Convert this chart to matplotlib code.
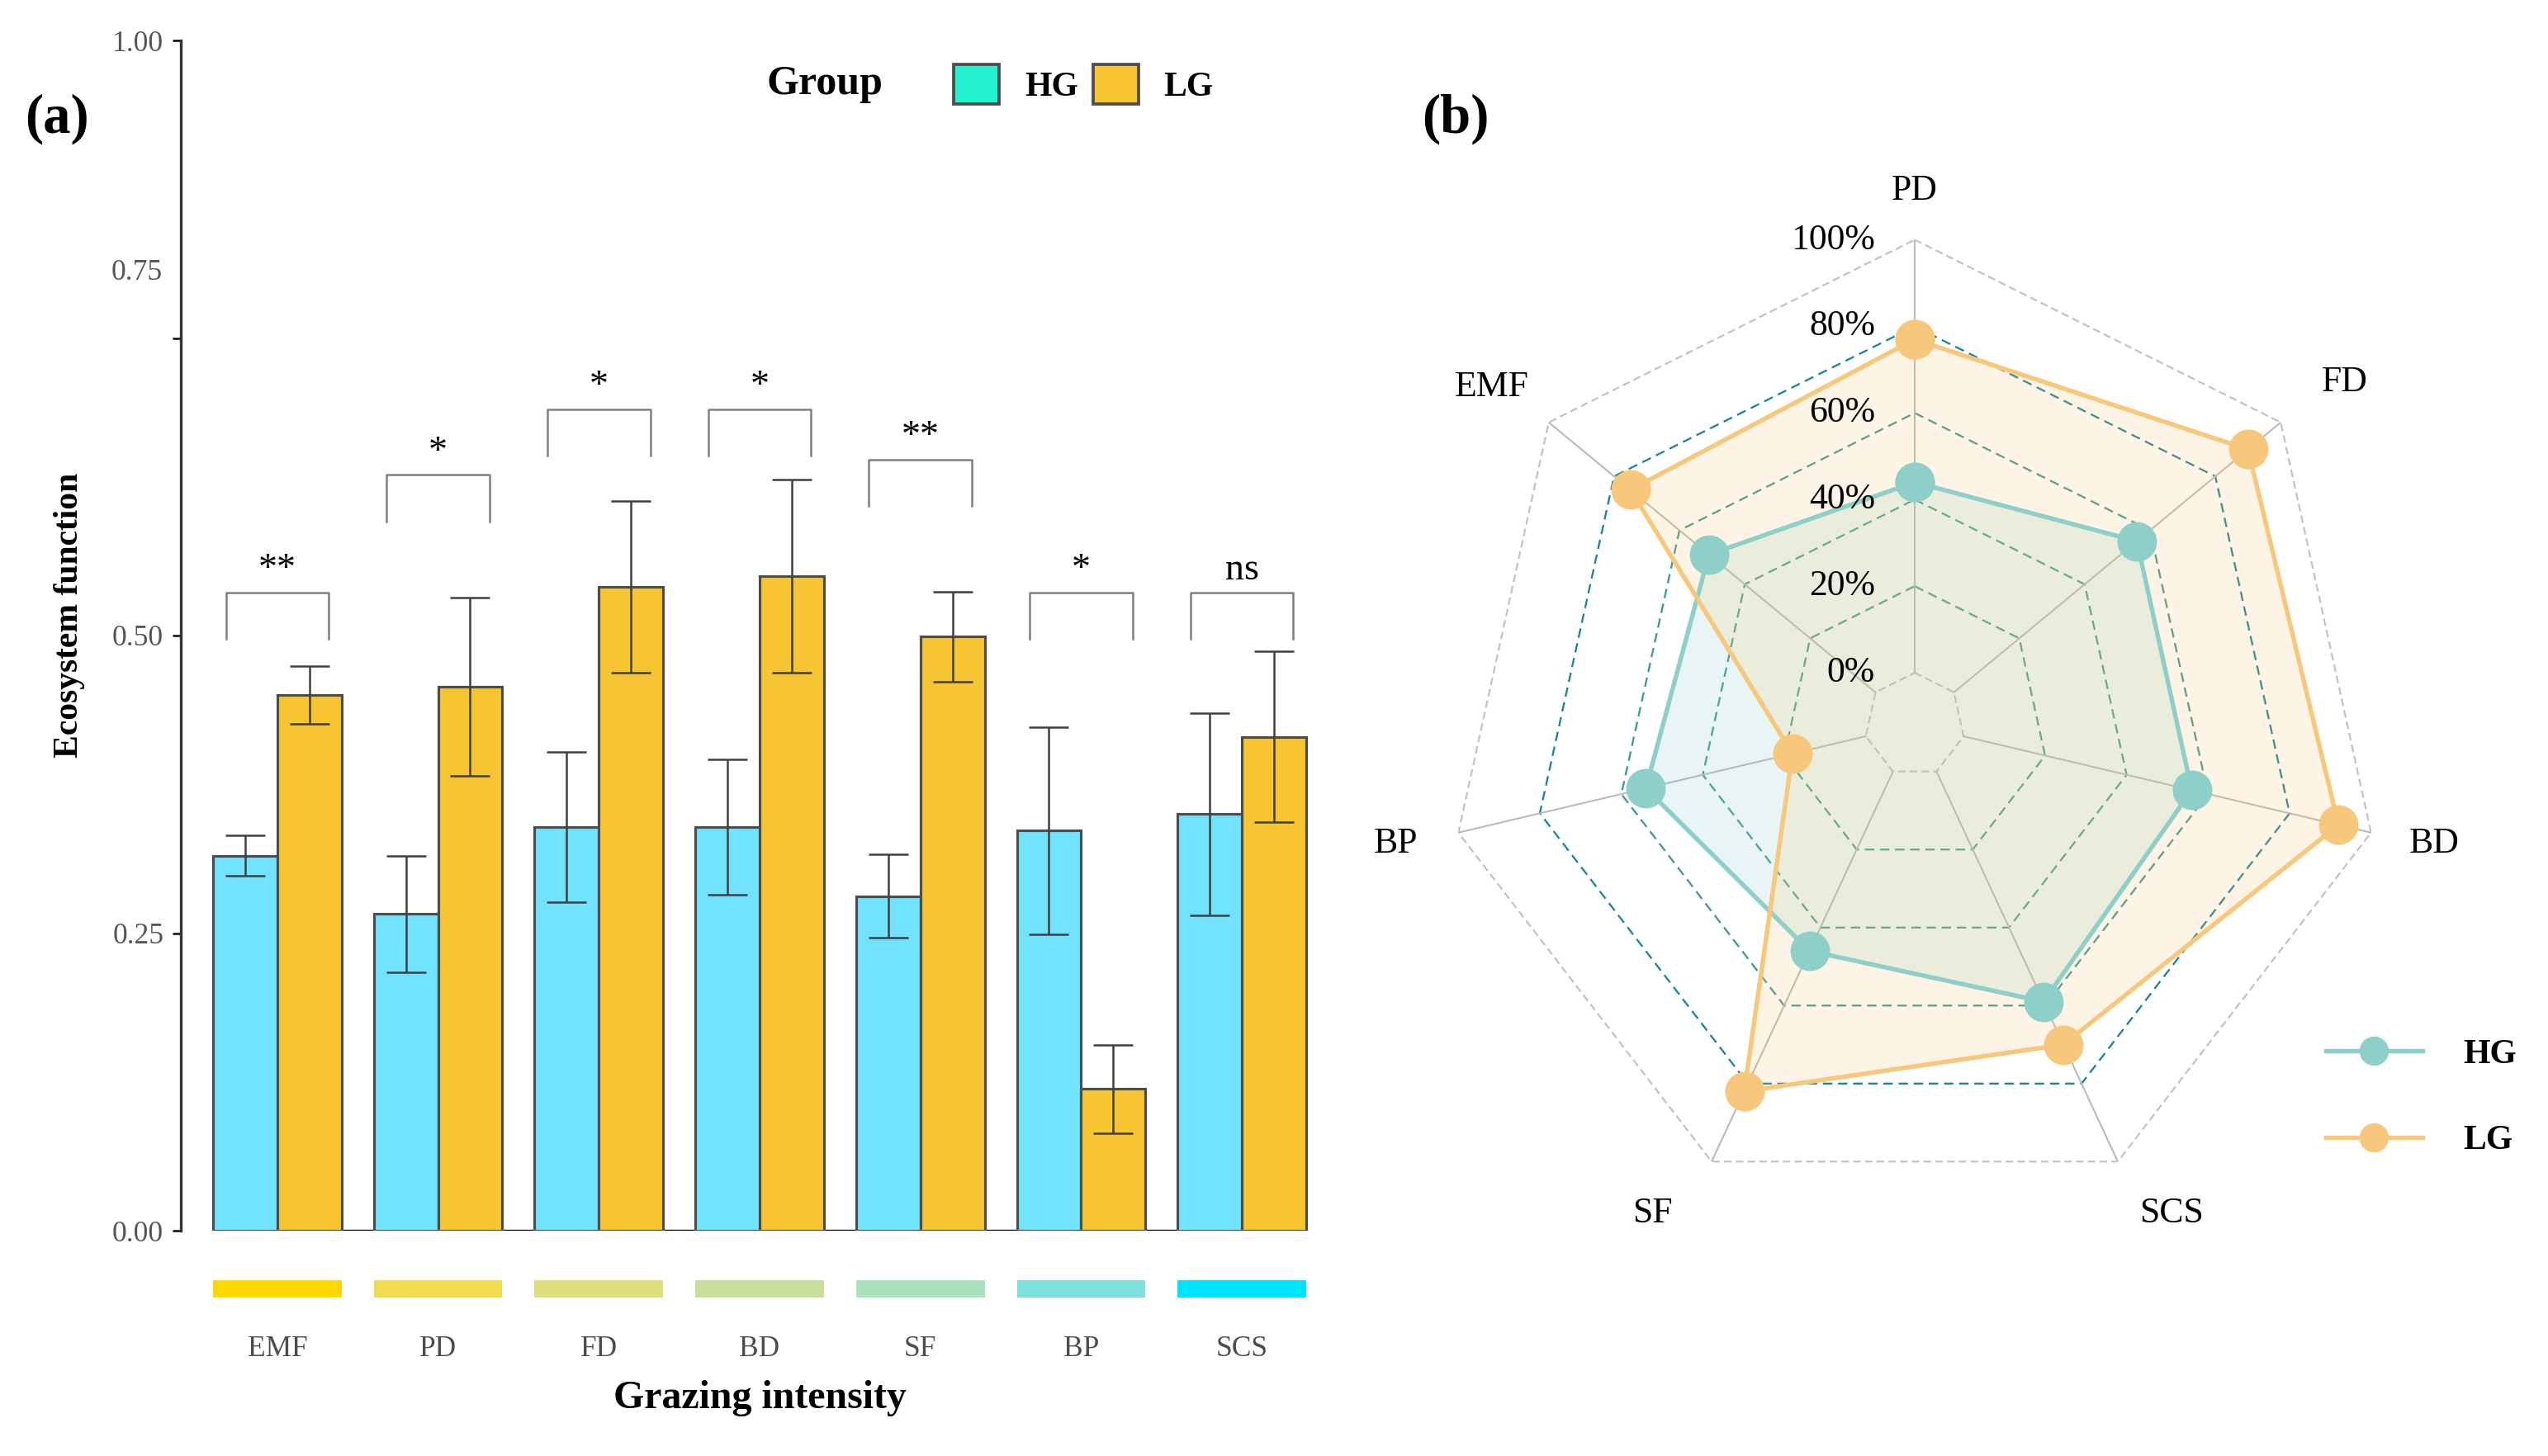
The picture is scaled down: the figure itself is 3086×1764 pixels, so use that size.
import numpy as np
import matplotlib
matplotlib.use("Agg")
import matplotlib.pyplot as plt
from matplotlib.patches import Patch
from matplotlib.lines import Line2D
from matplotlib.transforms import offset_copy

plt.rcParams['font.family'] = ['Liberation Serif', 'DejaVu Serif']

# === Dados painel (a) ===
categorias = ["EMF", "PD", "FD", "BD", "SF", "BP", "SCS"]
hg_media = [0.315, 0.266, 0.339, 0.339, 0.281, 0.336, 0.350]
hg_erro = [0.017, 0.049, 0.063, 0.057, 0.035, 0.087, 0.085]
lg_media = [0.450, 0.457, 0.541, 0.550, 0.499, 0.119, 0.415]
lg_erro = [0.024, 0.075, 0.072, 0.081, 0.038, 0.037, 0.072]
sig_topo = [0.536, 0.635, 0.690, 0.690, 0.648, 0.536, 0.536]
sig_texto = ["**", "*", "*", "*", "**", "*", "ns"]
cores_faixa = ["#FFD900", "#F0DC4E", "#DFDE7C", "#C9DF9C", "#ABE2BE", "#7FE1DE", "#00E5FF"]

# === Dados painel (b) ===
radar_eixos = ["PD", "FD", "BD", "SCS", "SF", "BP", "EMF"]
radar_hg = [44, 56, 56, 59, 46, 54, 51]
radar_lg = [77, 90, 92, 70, 82, 18, 75]
radar_niveis = [0, 20, 40, 60, 80, 100]

W, H = 3087, 1764
fig = plt.figure(figsize=(W / 300, H / 300), dpi=300)

# === Painel (a): barras ===
x = np.arange(len(categorias))
ax = fig.add_axes([219 / W, 1 - 1491 / H, 1402 / W, 1442 / H])
ax.bar(x - 0.2, hg_media, width=0.4, color="#72E3FF", edgecolor="#4D4D4D", linewidth=0.75, zorder=2)
ax.bar(x + 0.2, lg_media, width=0.4, color="#F6C531", edgecolor="#4D4D4D", linewidth=0.75, zorder=2)
ax.errorbar(x - 0.2, hg_media, yerr=hg_erro, fmt="none", ecolor="#404040",
            elinewidth=0.6, capsize=5.8, capthick=0.6, zorder=3)
ax.errorbar(x + 0.2, lg_media, yerr=lg_erro, fmt="none", ecolor="#404040",
            elinewidth=0.6, capsize=5.8, capthick=0.6, zorder=3)
ax.hlines(0, x[0] - 0.4, x[-1] + 0.4, color="black", linewidth=0.8, zorder=1)

# colchetes de significância
for xi, topo, txt in zip(x, sig_topo, sig_texto):
    ax.plot([xi - 0.32, xi - 0.32, xi + 0.32, xi + 0.32],
            [topo - 0.039, topo, topo, topo - 0.039], color="#808080", linewidth=0.6)
    ax.text(xi, topo + 0.004, txt, ha="center", va="bottom", fontsize=11, color="black")

ax.set_xlim(-0.6, 6.6)
ax.set_ylim(0, 1)
ax.set_xticks([])
ax.set_yticks([0, 0.25, 0.5, 0.75, 1.0])
ax.set_yticklabels(["0.00", "0.25", "0.50", "", "1.00"])
ax.text(-0.6, 0.805, "0.75", transform=offset_copy(ax.transData, fig=fig, x=-5.3, y=0, units="points"),
        ha="right", va="center", fontsize=8.5, color="#555555")
ax.tick_params(axis="y", length=2.4, width=0.6, pad=2.6, labelsize=8.5, labelcolor="#555555")
for s in ["top", "right", "bottom"]:
    ax.spines[s].set_visible(False)
ax.spines["left"].set_linewidth(0.8)
ax.spines["left"].set_color("#333333")
ax.set_ylabel("Ecosystem function", fontsize=10, fontweight="bold")
ax.yaxis.set_label_coords(-0.083, 0.517)

# faixa de cores + rótulos
ax_f = fig.add_axes([219 / W, 1 - 1572 / H, 1402 / W, 21 / H])
ax_f.bar(x, [1] * len(x), width=0.8, color=cores_faixa)
ax_f.set_xlim(-0.6, 6.6)
ax_f.set_ylim(0, 1)
ax_f.set_yticks([])
ax_f.set_xticks(x)
ax_f.set_xticklabels(categorias, fontsize=8.5, color="#4D4D4D")
ax_f.tick_params(axis="x", length=0, pad=11)
for s in ax_f.spines.values():
    s.set_visible(False)
ax_f.set_xlabel("Grazing intensity", fontsize=11.5, fontweight="bold", labelpad=5)

# legenda do painel (a)
fig.text(999 / W, 1 - 102 / H, "Group", ha="center", va="center", fontsize=12, fontweight="bold")
leg_a = [Patch(facecolor="#22F2CF", edgecolor="#4D4D4D", linewidth=0.9),
         Patch(facecolor="#F6C531", edgecolor="#4D4D4D", linewidth=0.9)]
fig.legend(leg_a, ["HG", "LG"], loc="center left", bbox_to_anchor=(1155 / W, 1 - 102 / H),
           ncol=2, frameon=False, borderpad=0, borderaxespad=0, handlelength=1.32,
           handleheight=1.42, handletextpad=0.74, columnspacing=0.43,
           prop={"weight": "bold", "size": 10})

fig.text(69 / W, 1 - 144 / H, "(a)", ha="center", va="center", fontsize=16, fontweight="bold")
fig.text(1763 / W, 1 - 144 / H, "(b)", ha="center", va="center", fontsize=16, fontweight="bold")

# === Painel (b): radar (levemente achatado na horizontal, como no original) ===
rmin, rmax = -12, 100
R = 587.5
Rx = R * 0.965
axr = fig.add_axes([(2319 - Rx) / W, 1 - (878 + R) / H, 2 * Rx / W, 2 * R / H], projection="polar")
axr.set_aspect("auto")

# eixo polar redondo só para os nomes dos eixos
axl = fig.add_axes([(2319 - R) / W, 1 - (878 + R) / H, 2 * R / W, 2 * R / H], projection="polar")

n = len(radar_eixos)
ang = np.linspace(0, 2 * np.pi, n, endpoint=False)
ang_f = np.append(ang, ang[0])

for a_ in (axr, axl):
    a_.set_theta_offset(np.pi / 2)
    a_.set_theta_direction(-1)
    a_.set_ylim(rmin, rmax)
    a_.grid(False)
    a_.spines["polar"].set_visible(False)
    a_.set_xticks([])
    a_.set_yticks([])
    a_.patch.set_alpha(0)

for nv in radar_niveis:
    if nv in (0, 100):
        cor, ls = "#C4C4C4", (0, (4, 2.2))
    elif nv == 80:
        cor, ls = "#17859A", (0, (5, 3))
    else:
        cor, ls = "#3C9A94", (0, (5, 3))
    axr.plot(ang_f, [nv] * (n + 1), color=cor, linewidth=0.55, linestyle=ls, zorder=1)
for a in ang:
    axr.plot([a, a], [0, 100], color="#BDBAB0", linewidth=0.5, zorder=1)

hg_f = radar_hg + radar_hg[:1]
lg_f = radar_lg + radar_lg[:1]
axr.fill(ang_f, hg_f, color="#8ECFC9", alpha=0.2, linewidth=0, zorder=2)
axr.fill(ang_f, lg_f, color="#F8C471", alpha=0.18, linewidth=0, zorder=2)
axr.plot(ang_f, hg_f, color="#8ECFC9", linewidth=1.3, marker="o", markersize=10.5, zorder=4)
axr.plot(ang_f, lg_f, color="#F7C77B", linewidth=1.3, marker="o", markersize=10.5, zorder=5)

# nomes dos eixos: raio e pequeno desvio angular ajustados à mão
raio_nome = [111.4, 115, 111, 115.5, 116, 111, 113]
desvio_nome = [0, 0, 0, -2, 2.5, 0, 0]
for a, nome, rn, dg in zip(ang, radar_eixos, raio_nome, desvio_nome):
    axl.text(a + np.deg2rad(dg), rn, nome, ha="center", va="center", fontsize=10.5, clip_on=False)
trans_r = offset_copy(axr.transData, fig=fig, x=-11.5, y=0, units="points")
for nv in radar_niveis:
    axr.text(0, nv, f"{nv}%", transform=trans_r, ha="right", va="center", fontsize=10.5, zorder=6)

leg_b = [Line2D([0], [0], color="#8ECFC9", linewidth=1.3, marker="o", markersize=7.5),
         Line2D([0], [0], color="#F7C77B", linewidth=1.3, marker="o", markersize=7.5)]
fig.legend(leg_b, ["HG", "LG"], loc="center left", bbox_to_anchor=(2817 / W, 1 - 1330 / H),
           frameon=False, borderpad=0, borderaxespad=0, handlelength=2.8, handletextpad=1.2,
           labelspacing=1.6, prop={"weight": "bold", "size": 10})

fig.savefig("out.png", dpi=300)
